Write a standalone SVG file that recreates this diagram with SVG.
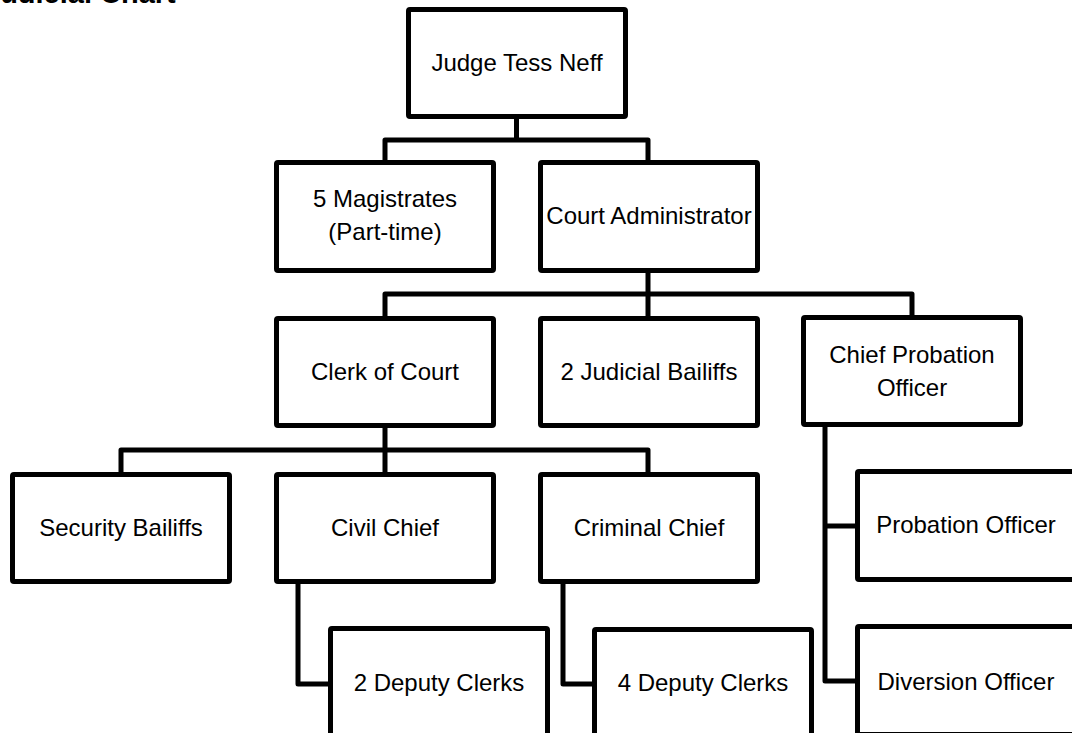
<svg xmlns="http://www.w3.org/2000/svg" width="1072" height="733" viewBox="0 0 1072 733">
  <style>
    .box { fill: #ffffff; stroke: #000000; stroke-width: 5; stroke-linejoin: round; }
    .link { fill: none; stroke: #000000; stroke-width: 5; stroke-linejoin: round; stroke-linecap: butt; }
    .label { font-family: "Liberation Sans", Arial, sans-serif; font-size: 24px; fill: #000000; text-anchor: middle; }
    .title { font-family: "Liberation Sans", Arial, sans-serif; font-size: 29px; font-weight: bold; fill: #000000; }
  </style>
  <rect width="1072" height="733" fill="#ffffff"/>

  <text class="title" x="-16" y="2.5">Judicial Chart</text>

  <!-- reporting lines -->
  <g id="connectors">
    <path class="link" d="M516.5 119 V140 M385 160 V140 H648 V160"/>
    <path class="link" d="M648 272 V294 M385 316 V294 H912 V316 M648 294 V316"/>
    <path class="link" d="M385 428 V450 M121 472 V450 H648 V472 M385 450 V472"/>
    <path class="link" d="M298 584 V684 H330"/>
    <path class="link" d="M563 584 V684 H594"/>
    <path class="link" d="M825 427 V681 H857 M825 526 H857"/>
  </g>

  <g id="judge">
    <rect class="box" x="408.5" y="9.5" width="217" height="107" rx="1.5"/>
    <text class="label" x="517" y="71">Judge Tess Neff</text>
  </g>

  <g id="magistrates">
    <rect class="box" x="276.5" y="162.5" width="217" height="108" rx="1.5"/>
    <text class="label" x="385" y="207">5 Magistrates</text>
    <text class="label" x="385" y="240">(Part-time)</text>
  </g>

  <g id="court-administrator">
    <rect class="box" x="540.5" y="162.5" width="217" height="108" rx="1.5"/>
    <text class="label" x="649" y="224">Court Administrator</text>
  </g>

  <g id="clerk-of-court">
    <rect class="box" x="276.5" y="318.5" width="217" height="107" rx="1.5"/>
    <text class="label" x="385" y="380">Clerk of Court</text>
  </g>

  <g id="judicial-bailiffs">
    <rect class="box" x="540.5" y="318.5" width="217" height="107" rx="1.5"/>
    <text class="label" x="649" y="380">2 Judicial Bailiffs</text>
  </g>

  <g id="chief-probation-officer">
    <rect class="box" x="803.5" y="317.5" width="217" height="107" rx="1.5"/>
    <text class="label" x="912" y="363">Chief Probation</text>
    <text class="label" x="912" y="396">Officer</text>
  </g>

  <g id="security-bailiffs">
    <rect class="box" x="12.5" y="474.5" width="217" height="107" rx="1.5"/>
    <text class="label" x="121" y="536">Security Bailiffs</text>
  </g>

  <g id="civil-chief">
    <rect class="box" x="276.5" y="474.5" width="217" height="107" rx="1.5"/>
    <text class="label" x="385" y="536">Civil Chief</text>
  </g>

  <g id="criminal-chief">
    <rect class="box" x="540.5" y="474.5" width="217" height="107" rx="1.5"/>
    <text class="label" x="649" y="536">Criminal Chief</text>
  </g>

  <g id="probation-officer">
    <rect class="box" x="857.5" y="471.5" width="217" height="108" rx="1.5"/>
    <text class="label" x="966" y="533">Probation Officer</text>
  </g>

  <g id="deputy-clerks-civil">
    <rect class="box" x="330.5" y="628.5" width="217" height="107" rx="1.5"/>
    <text class="label" x="439" y="691">2 Deputy Clerks</text>
  </g>

  <g id="deputy-clerks-criminal">
    <rect class="box" x="594.5" y="629.5" width="217" height="107" rx="1.5"/>
    <text class="label" x="703" y="691">4 Deputy Clerks</text>
  </g>

  <g id="diversion-officer">
    <rect class="box" x="857.5" y="626.5" width="217" height="108" rx="1.5"/>
    <text class="label" x="966" y="690">Diversion Officer</text>
  </g>
</svg>
